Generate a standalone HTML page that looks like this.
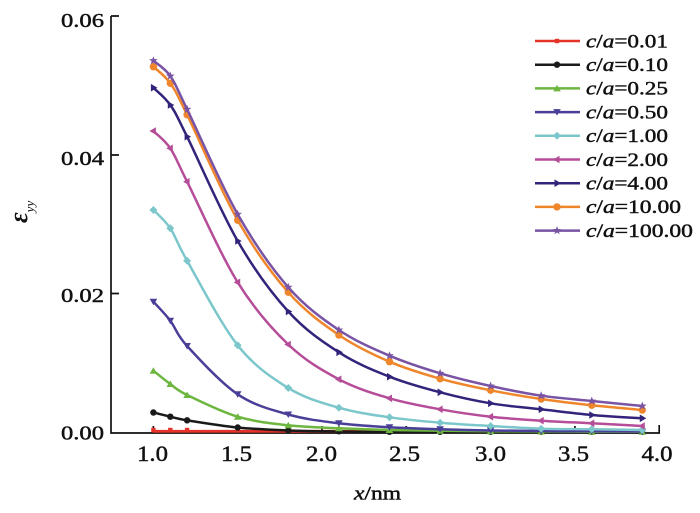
<!DOCTYPE html>
<html><head><meta charset="utf-8"><style>
html,body{margin:0;padding:0;background:#fff;}
svg{display:block;}
text{font-family:"Liberation Serif",serif;fill:#111;}
.tk{stroke:#111;stroke-width:0.45;}
</style></head><body>
<svg width="700" height="513" viewBox="0 0 700 513" xmlns="http://www.w3.org/2000/svg">
<rect width="700" height="513" fill="#fff"/>
<!-- axes -->
<g stroke="#111" stroke-width="1.7" fill="none">
<path d="M111,16 V433 H659.2 V425"/>
<path d="M111,16 H119 M111,155 H119 M111,293.5 H119"/>
<path d="M153.4,433 V426 M237.7,433 V426 M322,433 V426 M406.3,433 V426 M490.6,433 V426 M574.9,433 V426"/>
</g>
<!-- y tick labels -->
<g font-size="20" text-anchor="end" class="tk">
<text x="104" y="27" textLength="43" lengthAdjust="spacingAndGlyphs">0.06</text>
<text x="104" y="165" textLength="43" lengthAdjust="spacingAndGlyphs">0.04</text>
<text x="104" y="302" textLength="43" lengthAdjust="spacingAndGlyphs">0.02</text>
<text x="104" y="439.5" textLength="43" lengthAdjust="spacingAndGlyphs">0.00</text>
</g>
<!-- x tick labels -->
<g font-size="22" text-anchor="middle" class="tk">
<text x="152.5" y="461" textLength="31" lengthAdjust="spacingAndGlyphs">1.0</text>
<text x="236.5" y="461" textLength="31" lengthAdjust="spacingAndGlyphs">1.5</text>
<text x="321.5" y="461" textLength="31" lengthAdjust="spacingAndGlyphs">2.0</text>
<text x="404.5" y="461" textLength="31" lengthAdjust="spacingAndGlyphs">2.5</text>
<text x="490.5" y="461" textLength="31" lengthAdjust="spacingAndGlyphs">3.0</text>
<text x="573.5" y="461" textLength="31" lengthAdjust="spacingAndGlyphs">3.5</text>
<text x="657" y="461" textLength="31" lengthAdjust="spacingAndGlyphs">4.0</text>
</g>
<!-- axis titles -->
<text x="354" y="499.5" font-size="19" textLength="47" lengthAdjust="spacingAndGlyphs" class="tk"><tspan font-style="italic">x</tspan>/nm</text>
<text transform="translate(27,223) rotate(-90)" font-size="26" font-weight="bold" font-style="italic">ε<tspan font-size="13" font-weight="normal" dy="7">yy</tspan></text>

<!-- series -->
<g fill="none" stroke-width="2.5" stroke-linejoin="round" stroke-linecap="round">
<!-- 0.01 red -->
<polyline class="c" stroke="#e5332a" stroke-width="2.8" points="153.4,431.3 170.3,431.3 187.1,431.3 237.7,431.3 288.3,431.3 338.9,431.3 389.5,431.3 440.1,431.3 490.6,431.3 541.2,431.3 591.8,431.3 642.3,431.3"/>
<g fill="#e5332a"><rect x="151.2" y="427.8" width="4.4" height="4.4"/><rect x="168.1" y="427.8" width="4.4" height="4.4"/><rect x="184.9" y="427.8" width="4.4" height="4.4"/><rect x="235.5" y="427.8" width="4.4" height="4.4"/><rect x="286.1" y="427.8" width="4.4" height="4.4"/></g>
<!-- 0.10 black -->
<polyline class="c" stroke="#1a1a1a" points="153.4,412.5 170.3,416.7 187.1,420.3 237.7,427.5 288.3,430.5 338.9,431.5 389.5,432 440.1,432 490.6,432 541.2,432 591.8,432 642.3,432"/>
<g fill="#1a1a1a"><circle cx="153.4" cy="412.5" r="3.2"/><circle cx="170.3" cy="416.7" r="3.2"/><circle cx="187.1" cy="420.3" r="3.2"/><circle cx="237.7" cy="427.5" r="3.2"/><circle cx="288.3" cy="430.5" r="3.2"/><circle cx="338.9" cy="431.5" r="3"/><circle cx="389.5" cy="432" r="3"/><circle cx="440.1" cy="432" r="3"/><circle cx="490.6" cy="432" r="3"/><circle cx="541.2" cy="432" r="3"/><circle cx="591.8" cy="432" r="3"/><circle cx="642.3" cy="432" r="3"/></g>
<!-- 0.25 green -->
<polyline class="c" stroke="#6db63f" points="153.4,370.7 170.3,384 187.1,395 237.7,416.7 288.3,425.3 338.9,428.3 389.5,430 440.1,430.8 490.6,431.2 541.2,431.5 591.8,431.7 642.3,431.8"/>
<path fill="#6db63f" stroke="none" d="M153.4,367.2l3.8,6.5h-7.6zM170.3,380.5l3.8,6.5h-7.6zM187.1,391.5l3.8,6.5h-7.6zM237.7,413.2l3.8,6.5h-7.6zM288.3,421.8l3.8,6.5h-7.6zM338.9,424.8l3.8,6.5h-7.6zM389.5,426.5l3.8,6.5h-7.6zM440.1,427.3l3.8,6.5h-7.6zM490.6,427.7l3.8,6.5h-7.6zM541.2,428l3.8,6.5h-7.6zM591.8,428.2l3.8,6.5h-7.6zM642.3,428.3l3.8,6.5h-7.6z"/>
<!-- 0.50 blue -->
<polyline class="c" stroke="#4a3f98" points="153.4,301.7 170.3,320.7 187.1,346 237.7,394.3 288.3,414.5 338.9,423.3 389.5,427.3 440.1,429.3 490.6,430.5 541.2,431 591.8,431.3 642.3,431.5"/>
<path fill="#4a3f98" stroke="none" d="M153.4,305.2l3.8,-6.5h-7.6zM170.3,324.2l3.8,-6.5h-7.6zM187.1,349.5l3.8,-6.5h-7.6zM237.7,397.8l3.8,-6.5h-7.6zM288.3,418l3.8,-6.5h-7.6zM338.9,426.8l3.8,-6.5h-7.6zM389.5,430.8l3.8,-6.5h-7.6zM440.1,432.8l3.8,-6.5h-7.6zM490.6,434l3.8,-6.5h-7.6zM541.2,434.5l3.8,-6.5h-7.6zM591.8,434.8l3.8,-6.5h-7.6zM642.3,435l3.8,-6.5h-7.6z"/>
<!-- 1.00 cyan -->
<polyline class="c" stroke="#7cc7cb" points="153.4,210 170.3,228.3 187.1,260.7 237.7,345.3 288.3,388 338.9,407.7 389.5,417.3 440.1,422.7 490.6,426 541.2,428.7 591.8,429.3 642.3,430"/>
<path fill="#7cc7cb" stroke="none" d="M153.4,206l4,4-4,4-4,-4zM170.3,224.3l4,4-4,4-4,-4zM187.1,256.7l4,4-4,4-4,-4zM237.7,341.3l4,4-4,4-4,-4zM288.3,384l4,4-4,4-4,-4zM338.9,403.7l4,4-4,4-4,-4zM389.5,413.3l4,4-4,4-4,-4zM440.1,418.7l4,4-4,4-4,-4zM490.6,422l4,4-4,4-4,-4zM541.2,424.7l4,4-4,4-4,-4zM591.8,425.3l4,4-4,4-4,-4zM642.3,426l4,4-4,4-4,-4z"/>
<!-- 2.00 magenta -->
<polyline class="c" stroke="#b54d98" points="153.4,131 170.3,148.3 187.1,181.7 237.7,282.3 288.3,344.5 338.9,379.3 389.5,398.3 440.1,409.3 490.6,416.7 541.2,420.7 591.8,423.3 642.3,426"/>
<path fill="#b54d98" stroke="none" d="M149.4,131l6.5,-3.8v7.6zM166.3,148.3l6.5,-3.8v7.6zM183.1,181.7l6.5,-3.8v7.6zM233.7,282.3l6.5,-3.8v7.6zM284.3,344.5l6.5,-3.8v7.6zM334.9,379.3l6.5,-3.8v7.6zM385.5,398.3l6.5,-3.8v7.6zM436.1,409.3l6.5,-3.8v7.6zM486.6,416.7l6.5,-3.8v7.6zM537.2,420.7l6.5,-3.8v7.6zM587.8,423.3l6.5,-3.8v7.6zM638.3,426l6.5,-3.8v7.6z"/>
<!-- 4.00 indigo -->
<polyline class="c" stroke="#33237a" points="153.4,87.7 170.3,105 187.1,136.7 237.7,241 288.3,311.5 338.9,352.3 389.5,376.7 440.1,392.3 490.6,403.3 541.2,409.3 591.8,415 642.3,418.3"/>
<path fill="#33237a" stroke="none" d="M157.4,87.7l-6.5,-3.8v7.6zM174.3,105l-6.5,-3.8v7.6zM191.1,136.7l-6.5,-3.8v7.6zM241.7,241l-6.5,-3.8v7.6zM292.3,311.5l-6.5,-3.8v7.6zM342.9,352.3l-6.5,-3.8v7.6zM393.5,376.7l-6.5,-3.8v7.6zM444.1,392.3l-6.5,-3.8v7.6zM494.6,403.3l-6.5,-3.8v7.6zM545.2,409.3l-6.5,-3.8v7.6zM595.8,415l-6.5,-3.8v7.6zM646.3,418.3l-6.5,-3.8v7.6z"/>
<!-- 10.00 orange -->
<polyline class="c" stroke="#f0862c" points="153.4,66.7 170.3,83.3 187.1,114.7 237.7,220.3 288.3,292.3 338.9,335 389.5,361.7 440.1,378.7 490.6,390.3 541.2,399 591.8,405.3 642.3,410"/>
<g fill="#f0862c" stroke="none"><circle cx="153.4" cy="66.7" r="3.7"/><circle cx="170.3" cy="83.3" r="3.7"/><circle cx="187.1" cy="114.7" r="3.7"/><circle cx="237.7" cy="220.3" r="3.7"/><circle cx="288.3" cy="292.3" r="3.7"/><circle cx="338.9" cy="335" r="3.7"/><circle cx="389.5" cy="361.7" r="3.7"/><circle cx="440.1" cy="378.7" r="3.7"/><circle cx="490.6" cy="390.3" r="3.7"/><circle cx="541.2" cy="399" r="3.7"/><circle cx="591.8" cy="405.3" r="3.7"/><circle cx="642.3" cy="410" r="3.7"/></g>
<!-- 100.00 purple -->
<polyline class="c" stroke="#7953a4" points="153.4,60.7 170.3,76 187.1,109.3 237.7,214.3 288.3,287.3 338.9,330 389.5,355.7 440.1,373.3 490.6,386 541.2,395.7 591.8,401 642.3,406"/>
<path fill="#7953a4" stroke="none" d="M153.4,56.2l1.12,2.96 3.16,.15 -2.47,1.98 .84,3.05 -2.65,-1.74 -2.65,1.74 .84,-3.05 -2.47,-1.98 3.16,-.15zM170.3,71.5l1.12,2.96 3.16,.15 -2.47,1.98 .84,3.05 -2.65,-1.74 -2.65,1.74 .84,-3.05 -2.47,-1.98 3.16,-.15zM187.1,104.8l1.12,2.96 3.16,.15 -2.47,1.98 .84,3.05 -2.65,-1.74 -2.65,1.74 .84,-3.05 -2.47,-1.98 3.16,-.15zM237.7,209.8l1.12,2.96 3.16,.15 -2.47,1.98 .84,3.05 -2.65,-1.74 -2.65,1.74 .84,-3.05 -2.47,-1.98 3.16,-.15zM288.3,282.8l1.12,2.96 3.16,.15 -2.47,1.98 .84,3.05 -2.65,-1.74 -2.65,1.74 .84,-3.05 -2.47,-1.98 3.16,-.15zM338.9,325.5l1.12,2.96 3.16,.15 -2.47,1.98 .84,3.05 -2.65,-1.74 -2.65,1.74 .84,-3.05 -2.47,-1.98 3.16,-.15zM389.5,351.2l1.12,2.96 3.16,.15 -2.47,1.98 .84,3.05 -2.65,-1.74 -2.65,1.74 .84,-3.05 -2.47,-1.98 3.16,-.15zM440.1,368.8l1.12,2.96 3.16,.15 -2.47,1.98 .84,3.05 -2.65,-1.74 -2.65,1.74 .84,-3.05 -2.47,-1.98 3.16,-.15zM490.6,381.5l1.12,2.96 3.16,.15 -2.47,1.98 .84,3.05 -2.65,-1.74 -2.65,1.74 .84,-3.05 -2.47,-1.98 3.16,-.15zM541.2,391.2l1.12,2.96 3.16,.15 -2.47,1.98 .84,3.05 -2.65,-1.74 -2.65,1.74 .84,-3.05 -2.47,-1.98 3.16,-.15zM591.8,396.5l1.12,2.96 3.16,.15 -2.47,1.98 .84,3.05 -2.65,-1.74 -2.65,1.74 .84,-3.05 -2.47,-1.98 3.16,-.15zM642.3,401.5l1.12,2.96 3.16,.15 -2.47,1.98 .84,3.05 -2.65,-1.74 -2.65,1.74 .84,-3.05 -2.47,-1.98 3.16,-.15z"/>
</g>

<!-- legend -->
<g stroke-width="2.5" fill="none">
<path stroke="#e5332a" d="M535,41H580"/>
<path stroke="#1a1a1a" d="M535,64.7H580"/>
<path stroke="#6db63f" d="M535,88.4H580"/>
<path stroke="#4a3f98" d="M535,112.1H580"/>
<path stroke="#7cc7cb" d="M535,135.8H580"/>
<path stroke="#b54d98" d="M535,159.5H580"/>
<path stroke="#33237a" d="M535,183.2H580"/>
<path stroke="#f0862c" d="M535,206.9H580"/>
<path stroke="#7953a4" d="M535,230.6H580"/>
</g>
<g stroke="none">
<rect x="554.8" y="38.8" width="4.4" height="4.4" fill="#e5332a"/>
<circle cx="557" cy="64.7" r="3.2" fill="#1a1a1a"/>
<path fill="#6db63f" d="M557,84.9l3.8,6.5h-7.6z"/>
<path fill="#4a3f98" d="M557,115.6l3.8,-6.5h-7.6z"/>
<path fill="#7cc7cb" d="M557,131.8l4,4-4,4-4,-4z"/>
<path fill="#b54d98" d="M553,159.5l6.5,-3.8v7.6z"/>
<path fill="#33237a" d="M561,183.2l-6.5,-3.8v7.6z"/>
<circle cx="557" cy="206.9" r="3.7" fill="#f0862c"/>
<path fill="#7953a4" d="M557,226.1l1.12,2.96 3.16,.15 -2.47,1.98 .84,3.05 -2.65,-1.74 -2.65,1.74 .84,-3.05 -2.47,-1.98 3.16,-.15z"/>
</g>
<g font-size="19" class="tk">
<text x="586" y="47.3" textLength="82" lengthAdjust="spacingAndGlyphs"><tspan font-style="italic">c</tspan>/<tspan font-style="italic">a</tspan>=0.01</text>
<text x="586" y="71" textLength="82" lengthAdjust="spacingAndGlyphs"><tspan font-style="italic">c</tspan>/<tspan font-style="italic">a</tspan>=0.10</text>
<text x="586" y="94.7" textLength="82" lengthAdjust="spacingAndGlyphs"><tspan font-style="italic">c</tspan>/<tspan font-style="italic">a</tspan>=0.25</text>
<text x="586" y="118.4" textLength="82" lengthAdjust="spacingAndGlyphs"><tspan font-style="italic">c</tspan>/<tspan font-style="italic">a</tspan>=0.50</text>
<text x="586" y="142.1" textLength="82" lengthAdjust="spacingAndGlyphs"><tspan font-style="italic">c</tspan>/<tspan font-style="italic">a</tspan>=1.00</text>
<text x="586" y="165.8" textLength="82" lengthAdjust="spacingAndGlyphs"><tspan font-style="italic">c</tspan>/<tspan font-style="italic">a</tspan>=2.00</text>
<text x="586" y="189.5" textLength="82" lengthAdjust="spacingAndGlyphs"><tspan font-style="italic">c</tspan>/<tspan font-style="italic">a</tspan>=4.00</text>
<text x="586" y="213.2" textLength="95" lengthAdjust="spacingAndGlyphs"><tspan font-style="italic">c</tspan>/<tspan font-style="italic">a</tspan>=10.00</text>
<text x="586" y="236.9" textLength="107" lengthAdjust="spacingAndGlyphs"><tspan font-style="italic">c</tspan>/<tspan font-style="italic">a</tspan>=100.00</text>
</g>
</svg>
<script>
(function(){
var NS='http://www.w3.org/2000/svg';
var pls=document.querySelectorAll('polyline.c');
for(var k=0;k<pls.length;k++){
 var pl=pls[k];
 var pts=pl.getAttribute('points').trim().split(/\s+/).map(function(s){return s.split(',').map(Number);});
 var d='M'+pts[0][0]+','+pts[0][1];
 for(var i=0;i<pts.length-1;i++){
  var p0=pts[Math.max(i-1,0)],p1=pts[i],p2=pts[i+1],p3=pts[Math.min(i+2,pts.length-1)];
  var c1x=p1[0]+(p2[0]-p0[0])/6,c1y=p1[1]+(p2[1]-p0[1])/6;
  var c2x=p2[0]-(p3[0]-p1[0])/6,c2y=p2[1]-(p3[1]-p1[1])/6;
  d+=' C'+c1x.toFixed(2)+','+c1y.toFixed(2)+' '+c2x.toFixed(2)+','+c2y.toFixed(2)+' '+p2[0]+','+p2[1];
 }
 var p=document.createElementNS(NS,'path');
 p.setAttribute('d',d);
 p.setAttribute('stroke',pl.getAttribute('stroke'));
 if(pl.getAttribute('stroke-width'))p.setAttribute('stroke-width',pl.getAttribute('stroke-width'));
 p.setAttribute('fill','none');
 pl.parentNode.replaceChild(p,pl);
}
})();
</script>
</body></html>
